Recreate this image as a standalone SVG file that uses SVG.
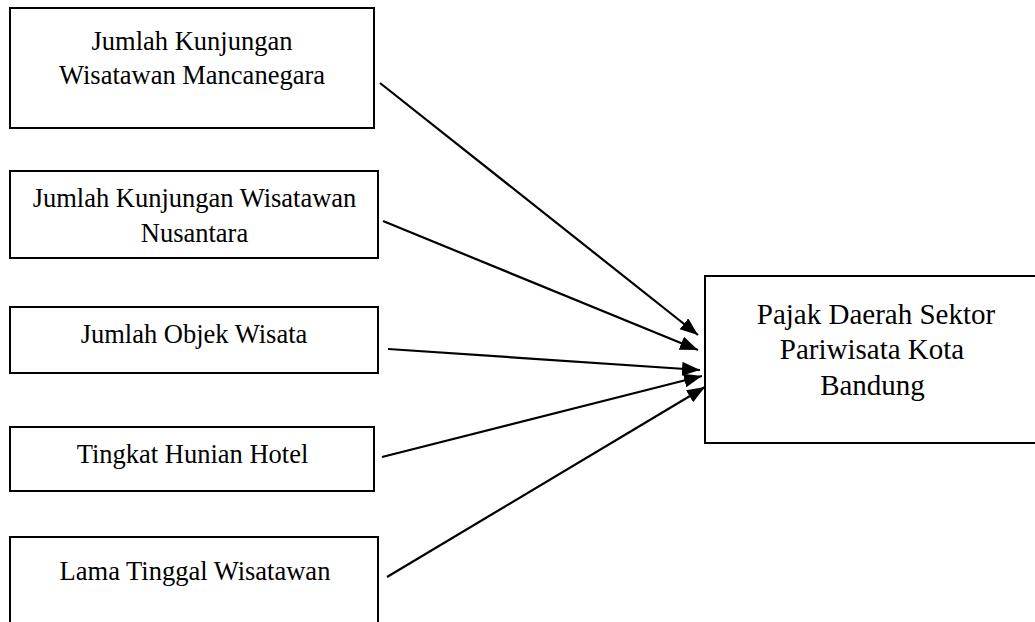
<svg xmlns="http://www.w3.org/2000/svg" width="1035" height="622" viewBox="0 0 1035 622">
<style>
.box{fill:#fff;stroke:#000;stroke-width:2}
.t{font-family:"Liberation Serif","Times New Roman",serif;font-size:26.5px;fill:#000;text-anchor:middle}
.tr{font-family:"Liberation Serif","Times New Roman",serif;font-size:29px;fill:#000;text-anchor:middle}
.c{stroke:#000;stroke-width:2.2;fill:none;marker-end:url(#ah)}
</style>
<defs>
<marker id="ah" markerUnits="userSpaceOnUse" markerWidth="20" markerHeight="16" refX="18" refY="7" orient="auto">
<path d="M0,0 L18,7 L0,14 z" fill="#000"/>
</marker>
</defs>
<rect width="1035" height="622" fill="#fff"/>
<g id="n1">
<rect class="box" x="10" y="8" width="364" height="120"/>
<text class="t" x="192" y="50">Jumlah Kunjungan</text>
<text class="t" x="192" y="84">Wisatawan Mancanegara</text>
</g>
<g id="n2">
<rect class="box" x="10" y="171" width="368" height="87"/>
<text class="t" x="194.5" y="207">Jumlah Kunjungan Wisatawan</text>
<text class="t" x="194.5" y="242">Nusantara</text>
</g>
<g id="n3">
<rect class="box" x="10" y="307" width="368" height="66"/>
<text class="t" x="194" y="343">Jumlah Objek Wisata</text>
</g>
<g id="n4">
<rect class="box" x="10" y="427" width="364" height="64"/>
<text class="t" x="192.5" y="463">Tingkat Hunian Hotel</text>
</g>
<g id="n5">
<rect class="box" x="10" y="537" width="368" height="100"/>
<text class="t" x="195" y="580">Lama Tinggal Wisatawan</text>
</g>
<g id="n6">
<rect class="box" x="705" y="276" width="345" height="167"/>
<text class="tr" x="876" y="324">Pajak Daerah Sektor</text>
<text class="tr" x="872" y="359">Pariwisata Kota</text>
<text class="tr" x="872.5" y="395">Bandung</text>
</g>
<g id="connectors">
<line class="c" x1="380" y1="83" x2="698" y2="335"/>
<line class="c" x1="383" y1="221" x2="698" y2="350"/>
<line class="c" x1="388" y1="349" x2="700" y2="370"/>
<line class="c" x1="382" y1="457" x2="702" y2="376"/>
<line class="c" x1="387" y1="577" x2="705" y2="387"/>
</g>
</svg>
